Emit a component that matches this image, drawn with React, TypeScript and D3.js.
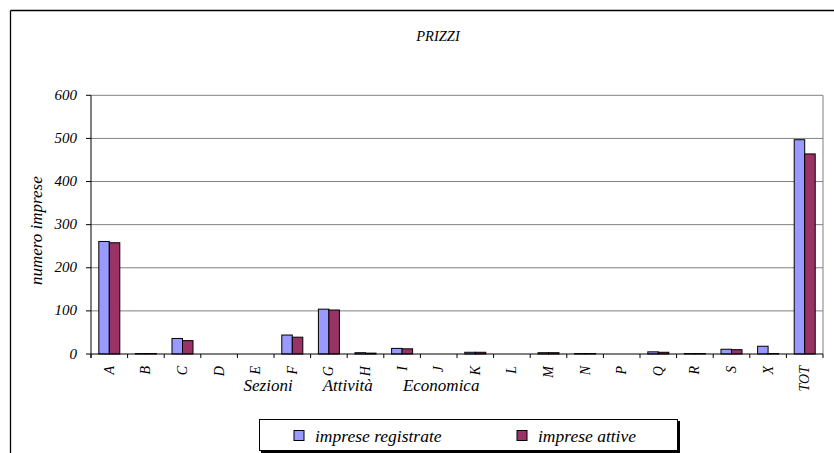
import React from "react";
import * as d3 from "d3";

const categories = ["A","B","C","D","E","F","G","H","I","J","K","L","M","N","P","Q","R","S","X","TOT"];
const registrate = [261, 1, 36, 0, 0, 44, 104, 3, 13, 0, 4, 0, 3, 1, 0, 5, 1, 11, 18, 497];
const attive = [258, 1, 31, 0, 0, 39, 102, 2, 12, 0, 4, 0, 3, 1, 0, 4, 1, 10, 1, 464];
const seriesNames = ["imprese registrate", "imprese attive"];
const seriesColors = ["#9999FF", "#993366"];
const yTicks = [0, 100, 200, 300, 400, 500, 600];

const W = 834, H = 453;
const plot = { left: 91, right: 823, top: 95.3, bottom: 354 };
const FONT = "Liberation Serif, Times New Roman, DejaVu Serif, serif";
const tstyle = { fontFamily: FONT, fontStyle: "italic" as const };

export default function App() {
  const x = d3.scaleBand<string>().domain(categories).range([plot.left, plot.right]).padding(0);
  const step = x.step();
  const inner = d3.scaleBand<string>().domain(seriesNames).range([step * 0.213, step * 0.787]).padding(0);
  const y = d3.scaleLinear().domain([0, 600]).range([plot.bottom, plot.top]);
  const series = [registrate, attive];

  return (
    <svg width={W} height={H} style={{ position: "absolute", left: 0, top: 0, background: "#fff" }}>
      <rect x={0} y={0} width={W} height={H} fill="#fff" />
      <line x1={10.5} y1={10.5} x2={W} y2={10.5} stroke="#000" strokeWidth={1.3} />
      <line x1={10.5} y1={10.5} x2={10.5} y2={H} stroke="#000" strokeWidth={1.3} />

      <text x={438} y={41} textAnchor="middle" fontSize={14.5} style={tstyle}>PRIZZI</text>

      {yTicks.filter(t => t > 0).map(t => (
        <line key={t} x1={plot.left} x2={plot.right} y1={y(t)} y2={y(t)} stroke="#808080" strokeWidth={1} />
      ))}
      <line x1={plot.right} x2={plot.right} y1={plot.top} y2={plot.bottom} stroke="#808080" strokeWidth={1} />

      {categories.map((c, i) => (
        <g key={c}>
          {series.map((s, j) => (
            <rect key={j}
              x={(x(c) as number) + (inner(seriesNames[j]) as number)}
              y={y(s[i])}
              width={inner.bandwidth()}
              height={Math.max(0, y(0) - y(s[i]))}
              fill={seriesColors[j]}
              stroke="#000"
              strokeWidth={1}
            />
          ))}
        </g>
      ))}

      <line x1={plot.left} x2={plot.left} y1={plot.top} y2={plot.bottom + 4} stroke="#000" strokeWidth={1} />
      {yTicks.map(t => (
        <g key={t}>
          <line x1={plot.left - 5} x2={plot.left} y1={y(t)} y2={y(t)} stroke="#000" />
          <text x={77} y={y(t) + 4.5} textAnchor="end" fontSize={15} style={tstyle}>{t}</text>
        </g>
      ))}
      <text transform={`translate(42,${(plot.top + plot.bottom) / 2 + 6}) rotate(-90)`} textAnchor="middle" fontSize={17} style={tstyle}>numero imprese</text>

      <line x1={plot.left} x2={plot.right} y1={plot.bottom} y2={plot.bottom} stroke="#000" strokeWidth={1} />
      {d3.range(categories.length + 1).map(k => (
        <line key={k} x1={plot.left + k * step} x2={plot.left + k * step} y1={plot.bottom} y2={plot.bottom + 4} stroke="#000" />
      ))}
      {categories.map(c => (
        <text key={c}
          transform={`translate(${(x(c) as number) + step / 2 + 4.5},${plot.bottom + 12}) rotate(-90)`}
          textAnchor="end" fontSize={14} style={tstyle}>{c}</text>
      ))}
      <text x={361.5} y={391} textAnchor="middle" fontSize={17} style={{ ...tstyle, wordSpacing: "26px" }}>Sezioni Attività Economica</text>

      <rect x={261} y={421} width={419} height={32} fill="#000" />
      <rect x={259.5} y={419.5} width={418} height={31} fill="#fff" stroke="#000" strokeWidth={1} />
      {seriesNames.map((n, j) => {
        const lx = [294, 517][j];
        return (
          <g key={n}>
            <rect x={lx} y={430.5} width={10} height={10} fill={seriesColors[j]} stroke="#000" strokeWidth={1} />
            <text x={lx + 21} y={442} fontSize={17.5} style={tstyle}>{n}</text>
          </g>
        );
      })}
    </svg>
  );
}
